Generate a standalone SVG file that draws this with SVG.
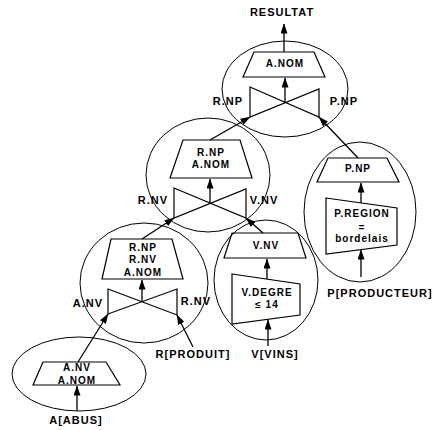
<svg xmlns="http://www.w3.org/2000/svg" width="435" height="430" viewBox="0 0 435 430">
<defs>
<marker id="arr" markerUnits="userSpaceOnUse" markerWidth="10" markerHeight="7" refX="9.5" refY="3.5" orient="auto">
<path d="M0,0 L10,3.5 L0,7 Z" fill="#000"/>
</marker>
</defs>
<style>
.sh{fill:none;stroke:#000;stroke-width:1.2}
.el{fill:none;stroke:#000;stroke-width:1}
.cn{fill:none;stroke:#000;stroke-width:1.3;marker-end:url(#arr)}
text{font-family:"Liberation Sans",Arial,Helvetica,sans-serif;font-weight:bold;text-anchor:middle;fill:#000}
.in{font-size:10px;letter-spacing:1px}
.out{font-size:11px;letter-spacing:1px}
</style>
<rect width="435" height="430" fill="#fff"/>

<g id="op-top">
<ellipse class="el" cx="285" cy="89" rx="63" ry="48"/>
<polygon class="sh" points="254,52 314,52 325,77 243,77"/>
<text class="in" x="285" y="67">A.NOM</text>
<path class="sh" d="M250,87 L319,117 L319,89 L250,117 Z"/>
<text class="out" x="228" y="105">R.NP</text>
<text class="out" x="344" y="105">P.NP</text>
</g>

<g id="op-mid">
<ellipse class="el" cx="208" cy="175" rx="62" ry="57"/>
<polygon class="sh" points="183,140 240,140 252,178 170,178"/>
<text class="in" x="211" y="155.5">R.NP</text>
<text class="in" x="211" y="167.5">A.NOM</text>
<path class="sh" d="M174,188 L246,218 L246,189 L174,218 Z"/>
<text class="out" x="153" y="204">R.NV</text>
<text class="out" x="264" y="204">V.NV</text>
</g>

<g id="op-r">
<ellipse class="el" cx="144" cy="283" rx="64" ry="60"/>
<polygon class="sh" points="111,239 172,239 183,279 102,279"/>
<text class="in" x="143" y="250.5">R.NP</text>
<text class="in" x="143" y="262.5">R.NV</text>
<text class="in" x="143" y="275.5">A.NOM</text>
<path class="sh" d="M108,289 L177,315 L177,289 L108,314 Z"/>
<text class="out" x="88" y="307">A.NV</text>
<text class="out" x="196" y="305">R.NV</text>
<text class="out" x="193" y="358">R[PRODUIT]</text>
</g>

<g id="op-a">
<ellipse class="el" cx="79" cy="374" rx="67" ry="37"/>
<polygon class="sh" points="43,362 106,362 120,385 33,385"/>
<text class="in" x="77" y="370.5">A.NV</text>
<text class="in" x="77" y="383.5">A.NOM</text>
<text class="out" x="76" y="424">A[ABUS]</text>
</g>

<g id="op-v">
<ellipse class="el" cx="266" cy="280" rx="52" ry="60"/>
<polygon class="sh" points="232,233 298,233 306,258 224,258"/>
<text class="in" x="266" y="248.5">V.NV</text>
<polygon class="sh" points="232,274 300,284 300,315 232,324"/>
<text class="in" x="267" y="295.5">V.DEGRE</text>
<text class="in" x="267" y="307.5">≤ 14</text>
<text class="out" x="275" y="358">V[VINS]</text>
</g>

<g id="op-p">
<ellipse class="el" cx="360" cy="212" rx="56" ry="70"/>
<polygon class="sh" points="328,158 387,158 399,182 317,182"/>
<text class="in" x="358" y="171.5">P.NP</text>
<polygon class="sh" points="326,198 397,208 397,245 326,254"/>
<text class="in" x="362" y="216.5">P.REGION</text>
<text class="in" x="362" y="230.5">=</text>
<text class="in" x="362" y="241.5">bordelais</text>
<text class="out" x="380" y="297">P[PRODUCTEUR]</text>
</g>

<g id="result">
<text class="out" x="282" y="16">RESULTAT</text>
</g>

<g id="connectors">
<line class="cn" x1="284" y1="52" x2="284" y2="24"/>
<line class="cn" x1="285" y1="102" x2="285" y2="78"/>
<line class="cn" x1="210" y1="140" x2="250" y2="117"/>
<line class="cn" x1="358" y1="158" x2="319" y2="117"/>
<line class="cn" x1="210" y1="203" x2="210" y2="179"/>
<line class="cn" x1="142" y1="239" x2="174" y2="218"/>
<line class="cn" x1="263" y1="233" x2="246" y2="218"/>
<line class="cn" x1="142" y1="302" x2="142" y2="280"/>
<line class="cn" x1="78" y1="362" x2="108" y2="314"/>
<line class="cn" x1="193" y1="347" x2="177" y2="315"/>
<line class="cn" x1="77" y1="411" x2="77" y2="386"/>
<line class="cn" x1="267" y1="279" x2="267" y2="259"/>
<line class="cn" x1="268" y1="346" x2="268" y2="320"/>
<line class="cn" x1="361" y1="203" x2="361" y2="183"/>
<line class="cn" x1="361" y1="277" x2="361" y2="250"/>
</g>
</svg>
